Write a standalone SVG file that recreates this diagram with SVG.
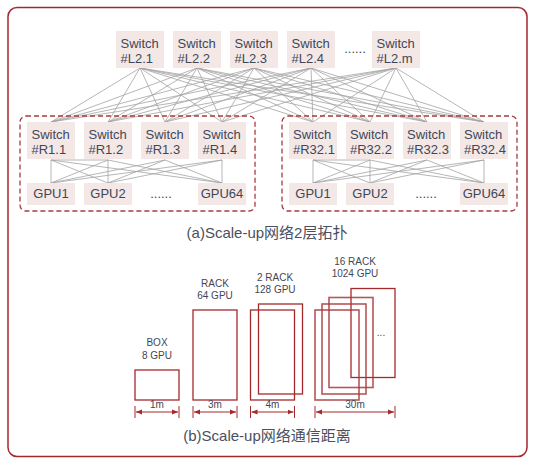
<svg xmlns="http://www.w3.org/2000/svg" width="536" height="464" viewBox="0 0 536 464">
<defs>
<style>
.frame{fill:#fff;stroke:#a2292d;stroke-width:1.5}
.grp{fill:none;stroke:#a83a3e;stroke-width:1.3;stroke-dasharray:5 3}
.box{fill:#f4e8e7}
.t{font-family:"Liberation Sans",Arial,sans-serif;font-size:13px;fill:#3f4757}
.tc{font-family:"Liberation Sans",Arial,sans-serif;font-size:13px;fill:#3f4757;text-anchor:middle}
.cap{font-family:"Liberation Sans","Noto Sans CJK SC",sans-serif;font-size:15px;fill:#4a5060;text-anchor:middle}
.lb{font-family:"Liberation Sans",Arial,sans-serif;font-size:10px;fill:#3f4757;text-anchor:middle}
.ln{stroke:#a3a3a3;stroke-width:0.8;fill:none}
.rk{fill:none;stroke:#a5282d;stroke-width:1.3}
.rk2{fill:none;stroke:#a9383c;stroke-width:1.6;stroke-opacity:0.85}
.dim{stroke:#a5282d;stroke-width:1;fill:none}
</style>
<marker id="ar" viewBox="0 0 6 6" refX="6" refY="3" markerWidth="6" markerHeight="6" markerUnits="userSpaceOnUse" orient="auto-start-reverse">
<path d="M0,0.5 L6,3 L0,5.5 Z" fill="#a5282d"/>
</marker>
</defs>
<rect class="frame" x="8" y="7.5" width="519" height="449" rx="9"/>

<g id="connectors">
<g id="l2-r">
<path class="ln" d="M140,68L51,122M140,68L108,122M140,68L165,122M140,68L222,122M140,68L313,122M140,68L370,122M140,68L427,122M140,68L484,122"/>
<path class="ln" d="M197,68L51,122M197,68L108,122M197,68L165,122M197,68L222,122M197,68L313,122M197,68L370,122M197,68L427,122M197,68L484,122"/>
<path class="ln" d="M254,68L51,122M254,68L108,122M254,68L165,122M254,68L222,122M254,68L313,122M254,68L370,122M254,68L427,122M254,68L484,122"/>
<path class="ln" d="M311,68L51,122M311,68L108,122M311,68L165,122M311,68L222,122M311,68L313,122M311,68L370,122M311,68L427,122M311,68L484,122"/>
<path class="ln" d="M396,68L51,122M396,68L108,122M396,68L165,122M396,68L222,122M396,68L313,122M396,68L370,122M396,68L427,122M396,68L484,122"/>
</g>
<g id="r-gpu-left">
<path class="ln" d="M51,160L108,160"/>
<path class="ln" d="M51,160L51,183M51,160L108,183M51,160L222,183"/>
<path class="ln" d="M108,160L51,183M108,160L108,183M108,160L222,183"/>
<path class="ln" d="M165,160L51,183M165,160L108,183M165,160L222,183"/>
<path class="ln" d="M222,160L51,183M222,160L108,183M222,160L222,183"/>
</g>
<g id="r-gpu-right">
<path class="ln" d="M313,160L370,160"/>
<path class="ln" d="M313,160L313,183M313,160L370,183M313,160L484,183"/>
<path class="ln" d="M370,160L313,183M370,160L370,183M370,160L484,183"/>
<path class="ln" d="M427,160L313,183M427,160L370,183M427,160L484,183"/>
<path class="ln" d="M484,160L313,183M484,160L370,183M484,160L484,183"/>
</g>
</g>

<g id="L2-1"><rect class="box" x="116" y="31" width="48" height="37"/><text class="t" x="120.5" y="47.5">Switch</text><text class="t" x="120.5" y="62.5">#L2.1</text></g>
<g id="L2-2"><rect class="box" x="173" y="31" width="48" height="37"/><text class="t" x="177.5" y="47.5">Switch</text><text class="t" x="177.5" y="62.5">#L2.2</text></g>
<g id="L2-3"><rect class="box" x="230" y="31" width="48" height="37"/><text class="t" x="234.5" y="47.5">Switch</text><text class="t" x="234.5" y="62.5">#L2.3</text></g>
<g id="L2-4"><rect class="box" x="287" y="31" width="48" height="37"/><text class="t" x="291.5" y="47.5">Switch</text><text class="t" x="291.5" y="62.5">#L2.4</text></g>
<g id="L2-dots"><text class="tc" x="355" y="53">......</text></g>
<g id="L2-m"><rect class="box" x="372" y="31" width="48" height="37"/><text class="t" x="376.5" y="47.5">Switch</text><text class="t" x="376.5" y="62.5">#L2.m</text></g>

<g id="rack1">
<rect class="grp" x="20" y="116" width="235" height="95" rx="6"/>
<g id="R1-1"><rect class="box" x="27" y="122" width="48" height="37"/><text class="t" x="31.5" y="138.5">Switch</text><text class="t" x="31.5" y="153.5">#R1.1</text></g>
<g id="R1-2"><rect class="box" x="84" y="122" width="48" height="37"/><text class="t" x="88.5" y="138.5">Switch</text><text class="t" x="88.5" y="153.5">#R1.2</text></g>
<g id="R1-3"><rect class="box" x="141" y="122" width="48" height="37"/><text class="t" x="145.5" y="138.5">Switch</text><text class="t" x="145.5" y="153.5">#R1.3</text></g>
<g id="R1-4"><rect class="box" x="198" y="122" width="48" height="37"/><text class="t" x="202.5" y="138.5">Switch</text><text class="t" x="202.5" y="153.5">#R1.4</text></g>
<g id="G1-1"><rect class="box" x="27" y="183" width="48" height="22"/><text class="tc" x="51" y="197.5">GPU1</text></g>
<g id="G1-2"><rect class="box" x="84" y="183" width="48" height="22"/><text class="tc" x="108" y="197.5">GPU2</text></g>
<text class="tc" x="161" y="197.5">......</text>
<g id="G1-64"><rect class="box" x="198" y="183" width="48" height="22"/><text class="tc" x="222" y="197.5">GPU64</text></g>
</g>

<g id="rack32">
<rect class="grp" x="282" y="116" width="235" height="95" rx="6"/>
<g id="R32-1"><rect class="box" x="289" y="122" width="48" height="37"/><text class="t" x="293" y="138.5">Switch</text><text class="t" x="293" y="153.5">#R32.1</text></g>
<g id="R32-2"><rect class="box" x="346" y="122" width="48" height="37"/><text class="t" x="350" y="138.5">Switch</text><text class="t" x="350" y="153.5">#R32.2</text></g>
<g id="R32-3"><rect class="box" x="403" y="122" width="48" height="37"/><text class="t" x="407" y="138.5">Switch</text><text class="t" x="407" y="153.5">#R32.3</text></g>
<g id="R32-4"><rect class="box" x="460" y="122" width="48" height="37"/><text class="t" x="464" y="138.5">Switch</text><text class="t" x="464" y="153.5">#R32.4</text></g>
<g id="G32-1"><rect class="box" x="289" y="183" width="48" height="22"/><text class="tc" x="313" y="197.5">GPU1</text></g>
<g id="G32-2"><rect class="box" x="346" y="183" width="48" height="22"/><text class="tc" x="370" y="197.5">GPU2</text></g>
<text class="tc" x="426" y="197.5">......</text>
<g id="G32-64"><rect class="box" x="460" y="183" width="48" height="22"/><text class="tc" x="484" y="197.5">GPU64</text></g>
</g>

<text class="cap" x="267" y="238">(a)Scale-up网络2层拓扑</text>

<g id="box8">
<text class="lb" x="157" y="346">BOX</text>
<text class="lb" x="157" y="358.5">8 GPU</text>
<rect class="rk" x="135" y="370" width="44" height="30"/>
<path class="dim" d="M135,406V418M179,406V418"/>
<path class="dim" d="M136,412H178" marker-start="url(#ar)" marker-end="url(#ar)"/>
<text class="lb" x="157" y="408">1m</text>
</g>

<g id="rack64">
<text class="lb" x="215" y="287">RACK</text>
<text class="lb" x="215" y="299">64 GPU</text>
<rect class="rk" x="193" y="310" width="44" height="90"/>
<path class="dim" d="M193,406V418M237,406V418"/>
<path class="dim" d="M194,412H236" marker-start="url(#ar)" marker-end="url(#ar)"/>
<text class="lb" x="215" y="408">3m</text>
</g>

<g id="rack128">
<text class="lb" x="275" y="281">2 RACK</text>
<text class="lb" x="275" y="293">128 GPU</text>
<rect class="rk" x="258.5" y="304" width="44" height="90"/>
<rect class="rk" x="250.5" y="310" width="44" height="90"/>
<path class="dim" d="M250.5,406V418M294.5,406V418"/>
<path class="dim" d="M251.5,412H293.5" marker-start="url(#ar)" marker-end="url(#ar)"/>
<text class="lb" x="272.5" y="408">4m</text>
</g>

<g id="rack1024">
<text class="lb" x="355" y="265">16 RACK</text>
<text class="lb" x="355" y="277">1024 GPU</text>
<rect class="rk" x="351" y="288.5" width="44" height="89"/>
<rect class="rk2" x="329" y="297.5" width="44" height="90"/>
<rect class="rk2" x="322" y="304" width="44" height="90"/>
<rect class="rk2" x="315" y="310" width="44" height="90"/>
<text class="lb" x="381" y="336">...</text>
<path class="dim" d="M315,406V418M395,406V418"/>
<path class="dim" d="M316,412H394" marker-start="url(#ar)" marker-end="url(#ar)"/>
<text class="lb" x="355" y="408">30m</text>
</g>

<text class="cap" x="267" y="441">(b)Scale-up网络通信距离</text>
</svg>
